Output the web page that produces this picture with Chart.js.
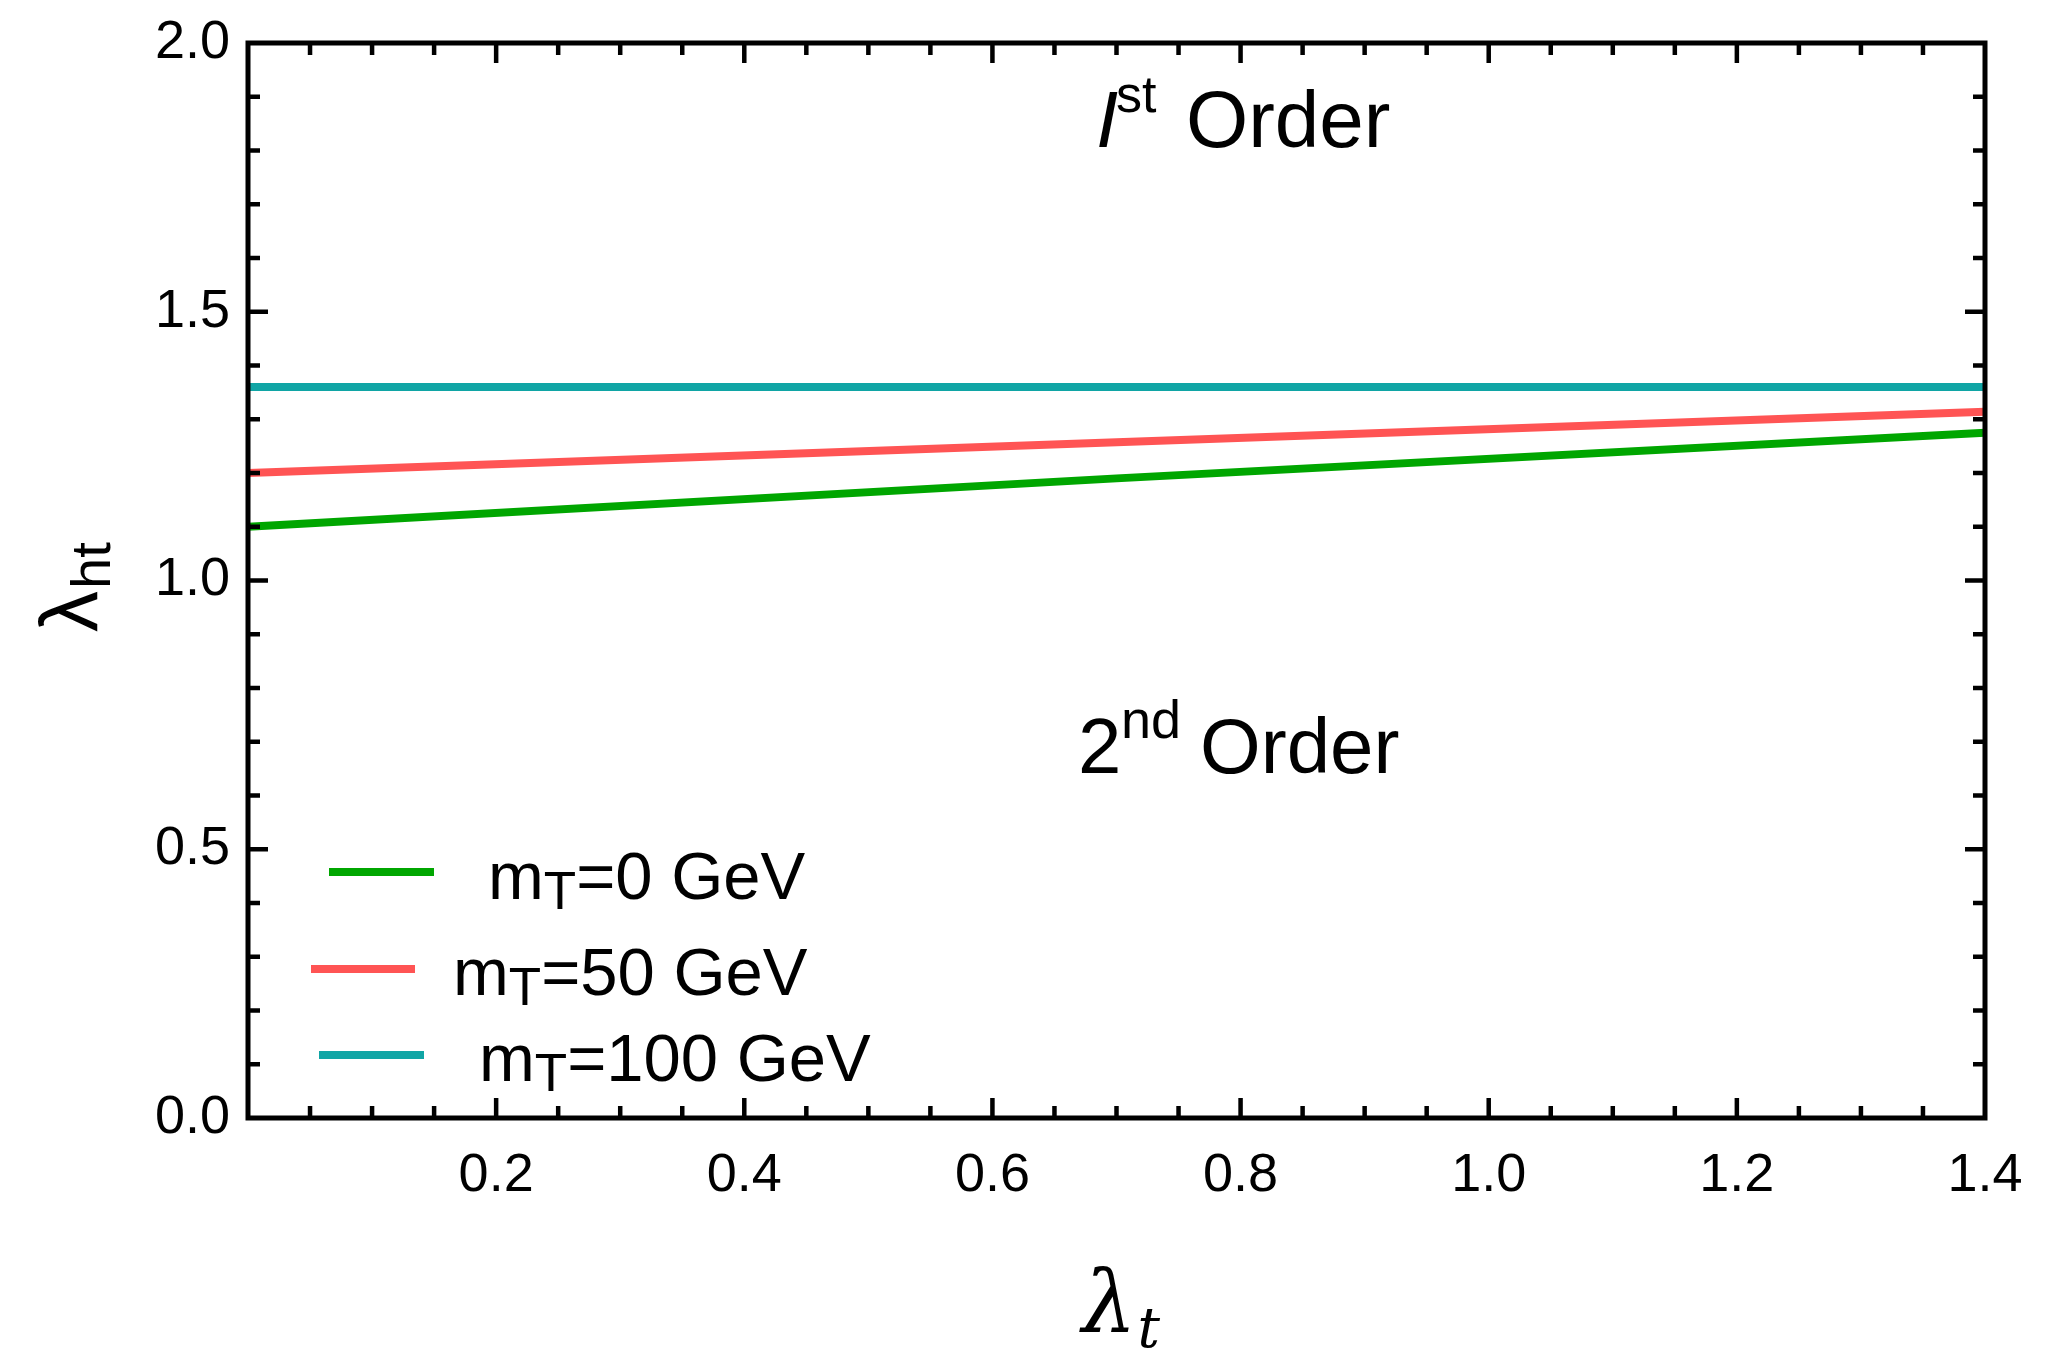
<!DOCTYPE html>
<html>
<head>
<meta charset="utf-8">
<script src="https://cdn.jsdelivr.net/npm/chart.js@4.4.1/dist/chart.umd.min.js"></script>
<style>
  html, body { margin: 0; padding: 0; background: #fff; }
  canvas { display: block; }
</style>
</head>
<body>
<canvas id="c" width="2048" height="1355"></canvas>
<script>
// ---- data ----
const lambdaT = [0, 0.7, 1.4];
const mT0 = [1.10, 1.19, 1.275];
const mT50 = [1.20, 1.257, 1.314];
const mT100 = [1.36, 1.36, 1.36];
const seriesMasses = ['0', '50', '100'];
const seriesColors = ['#00a600', '#ff5454', '#10a5a5'];
const xTickValues = [0.2, 0.4, 0.6, 0.8, 1.0, 1.2, 1.4];
const yTickValues = [0.0, 0.5, 1.0, 1.5, 2.0];

const SANS = '"Liberation Sans", Arial, Helvetica, sans-serif';
const SERIF = '"DejaVu Serif", "Liberation Serif", serif';

function pts(ys) { return lambdaT.map((x, i) => ({ x: x, y: ys[i] })); }

const datasets = [mT0, mT50, mT100].map((ys, i) => ({
  label: 'mT=' + seriesMasses[i] + ' GeV',
  data: pts(ys),
  borderColor: seriesColors[i],
  backgroundColor: seriesColors[i],
  borderWidth: 8,
  pointRadius: 0,
  tension: 0,
  fill: false
}));

const decor = {
  id: 'decor',
  afterDraw(chart) {
    const ctx = chart.ctx;
    const xs = chart.scales.x, ys = chart.scales.y;
    const a = chart.chartArea;
    ctx.save();
    // frame
    ctx.strokeStyle = '#000';
    ctx.lineWidth = 5;
    ctx.strokeRect(a.left, a.top, a.right - a.left, a.bottom - a.top);
    // ticks (inward, mirrored)
    ctx.lineWidth = 4.5;
    ctx.lineCap = 'butt';
    function xt(v, len) {
      const p = xs.getPixelForValue(v);
      ctx.beginPath();
      ctx.moveTo(p, a.bottom); ctx.lineTo(p, a.bottom - len);
      ctx.moveTo(p, a.top); ctx.lineTo(p, a.top + len);
      ctx.stroke();
    }
    function yt(v, len) {
      const p = ys.getPixelForValue(v);
      ctx.beginPath();
      ctx.moveTo(a.left, p); ctx.lineTo(a.left + len, p);
      ctx.moveTo(a.right, p); ctx.lineTo(a.right - len, p);
      ctx.stroke();
    }
    for (let i = 1; i < 28; i++) {
      xt(i * 0.05, (i % 4 === 0) ? 20 : 12);
    }
    for (let i = 1; i < 20; i++) {
      yt(i * 0.1, (i % 5 === 0) ? 20 : 12);
    }

    ctx.fillStyle = '#000';
    ctx.textAlign = 'left';
    ctx.textBaseline = 'alphabetic';

    // "I^st Order"
    ctx.font = 'italic 80px ' + SANS;
    ctx.fillText('I', 1096, 147);
    ctx.font = '52px ' + SANS;
    ctx.fillText('st', 1116, 112);
    ctx.font = '80px ' + SANS;
    ctx.fillText('Order', 1186, 147);

    // "2^nd Order"
    ctx.font = '78px ' + SANS;
    ctx.fillText('2', 1078, 773);
    ctx.font = '54px ' + SANS;
    ctx.fillText('nd', 1121, 738);
    ctx.font = '78px ' + SANS;
    ctx.fillText('Order', 1200, 773);

    // legend
    const legend = [
      { x1: 329, x2: 434, ly: 872, tx: 488, by: 899 },
      { x1: 311, x2: 415, ly: 969, tx: 453, by: 995 },
      { x1: 319, x2: 424, ly: 1055, tx: 479, by: 1081 }
    ];
    legend.forEach((L, i) => {
      ctx.strokeStyle = seriesColors[i];
      ctx.lineWidth = 8;
      ctx.beginPath();
      ctx.moveTo(L.x1, L.ly); ctx.lineTo(L.x2, L.ly);
      ctx.stroke();
      let x = L.tx;
      ctx.font = '67px ' + SANS;
      ctx.fillText('m', x, L.by);
      x += ctx.measureText('m').width;
      ctx.font = '53px ' + SANS;
      ctx.fillText('T', x, L.by + 10);
      x += ctx.measureText('T').width;
      ctx.font = '67px ' + SANS;
      ctx.fillText('=' + seriesMasses[i] + ' GeV', x, L.by);
    });

    // y axis title  λ_ht
    ctx.save();
    ctx.translate(97, 632);
    ctx.rotate(-Math.PI / 2);
    ctx.font = '82px ' + SANS;
    ctx.fillText('λ', 0, 0);
    const lw = ctx.measureText('λ').width;
    ctx.font = '56px ' + SANS;
    ctx.fillText('ht', lw + 2, 13);
    ctx.restore();

    // x axis title  λ_t
    ctx.font = 'italic 86px ' + SERIF;
    ctx.fillText('λ', 1082, 1332);
    const lw2 = ctx.measureText('λ').width;
    ctx.font = 'italic 56px ' + SERIF;
    ctx.fillText('t', 1082 + lw2 + 1, 1347);

    ctx.restore();
  }
};

new Chart(document.getElementById('c'), {
  type: 'line',
  data: { datasets: datasets },
  plugins: [decor],
  options: {
    responsive: false,
    animation: false,
    devicePixelRatio: 1,
    layout: { padding: { left: 0, top: 43, right: 63, bottom: 0 } },
    plugins: { legend: { display: false }, tooltip: { enabled: false } },
    scales: {
      x: {
        type: 'linear',
        min: 0, max: 1.4,
        afterFit: (s) => { s.height = 237; s.paddingLeft = 0; s.paddingRight = 0; },
        afterBuildTicks: (s) => { s.ticks = xTickValues.map(v => ({ value: v })); },
        grid: { display: false, drawTicks: false },
        border: { display: false },
        ticks: {
          padding: 26,
          color: '#000',
          maxRotation: 0,
          autoSkip: false,
          font: { family: SANS, size: 54 },
          callback: (v) => Number(v).toFixed(1)
        }
      },
      y: {
        type: 'linear',
        min: 0, max: 2,
        afterFit: (s) => { s.width = 248; s.paddingTop = 0; s.paddingBottom = 0; },
        afterBuildTicks: (s) => { s.ticks = yTickValues.map(v => ({ value: v })); },
        grid: { display: false, drawTicks: false },
        border: { display: false },
        ticks: {
          padding: 18,
          color: '#000',
          autoSkip: false,
          font: { family: SANS, size: 54 },
          callback: (v) => Number(v).toFixed(1)
        }
      }
    }
  }
});
</script>
</body>
</html>
